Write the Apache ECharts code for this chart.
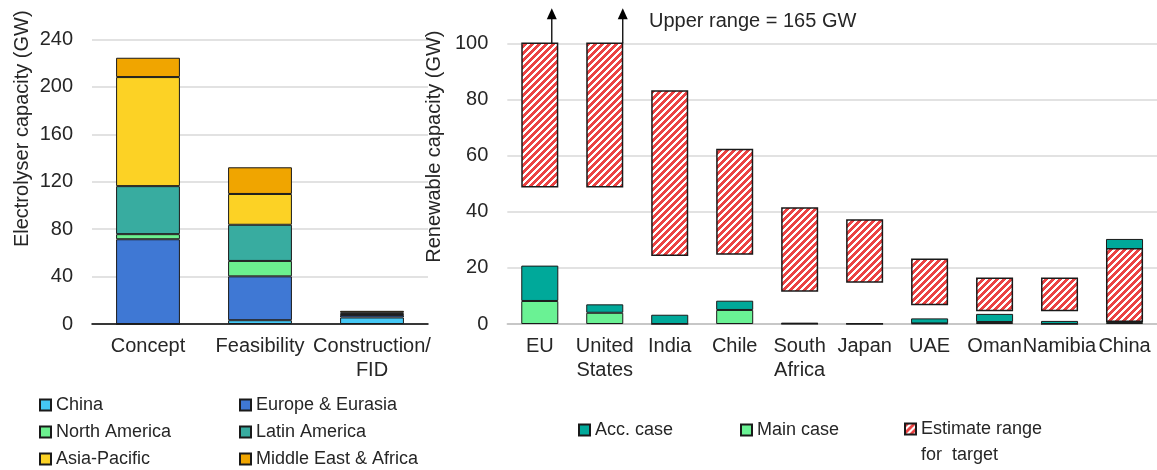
<!DOCTYPE html>
<html>
<head>
<meta charset="utf-8" />
<title>Electrolyser and renewable capacity</title>
<style>
  html, body { margin: 0; width: 100%; height: 100%; background: #fff; }
  #main { width: 1157px; height: 470px; }
</style>
</head>
<body>
<div id="main"></div>
<script src="https://cdn.jsdelivr.net/npm/echarts@6/dist/echarts.min.js"></script>
<script>
// left panel: electrolyser projects by stage (GW)
var stages = ["Concept", "Feasibility", "Construction/\nFID"];
var china = [0, 3.2, 5.5];
var europe = [71.5, 37, 2];
var northAmerica = [4.3, 13, 0.5];
var latinAmerica = [40.5, 30.5, 0.8];
var asiaPacific = [92, 26, 0.8];
var middleEast = [16.3, 22.5, 1.5];

// right panel: renewable capacity (GW)
var countries = ["EU", "United\nStates", "India", "Chile", "South\nAfrica", "Japan", "UAE", "Oman", "Namibia", "China"];
var mainCase = [8.2, 4.0, 0, 5.0, 0.1, 0.05, 0.2, 0.7, 0, 0.7];
var accCase = [20.8, 7.0, 3.3, 8.3, 0.4, 0.2, 2.0, 3.6, 1.1, 30.3];
var targetLow = [48.6, 48.6, 24.2, 24.7, 11.5, 14.7, 6.7, 4.5, 4.5, 0.7];
var targetHigh = [165, 165, 83.3, 62.4, 41.6, 37.3, 23.3, 16.6, 16.6, 27.1];

var FONT = "Liberation Sans";
var TXT = "#262626";
var EDGE = "#1a1a1a";

// red/white diagonal hatch, drawn pixel by pixel like the original
function hatch() {
  var s = 7;
  var c = document.createElement("canvas");
  c.width = s; c.height = s;
  var g = c.getContext("2d");
  g.fillStyle = "#fff";
  g.fillRect(0, 0, s, s);
  g.fillStyle = "#eb4343";
  for (var x = 0; x < s; x++) {
    for (var y = 0; y < s; y++) {
      if ((x + y) % s < 4) g.fillRect(x, y, 1, 1);
    }
  }
  return { image: c, repeat: "repeat" };
}

function region(name, data, color) {
  return {
    name: name, type: "bar", stack: "stage", xAxisIndex: 0, yAxisIndex: 0,
    barWidth: "57%", data: data,
    itemStyle: { color: color, borderColor: EDGE, borderWidth: 1 }
  };
}

var accStep = accCase.map(function (v, i) { return +(v - mainCase[i]).toFixed(2); });
var rangeSpan = targetHigh.map(function (v, i) { return +(v - targetLow[i]).toFixed(2); });

var axisLabel = { fontFamily: FONT, fontSize: 20, color: TXT };
var legendText = { fontFamily: FONT, fontSize: 18, color: TXT, lineHeight: 20 };

function legend(names, left, top, extra) {
  return Object.assign({
    data: names, orient: "vertical", left: left, top: top, padding: 0, itemGap: 7,
    itemWidth: 11, itemHeight: 11, icon: "rect", textStyle: legendText, selectedMode: false
  }, extra || {});
}

var chart = echarts.init(document.getElementById("main"));
var option = {
  animation: false,
  title: {
    text: "Upper range = " + Math.max.apply(null, targetHigh) + " GW",
    left: 649, top: 11, padding: 0,
    textStyle: { fontFamily: FONT, fontSize: 20, fontWeight: "normal", color: TXT }
  },
  grid: [
    { left: 92, top: 39.5, width: 336, height: 284.5 },
    { left: 507.3, top: 43.3, width: 653, height: 280.7 }
  ],
  xAxis: [
    {
      type: "category", gridIndex: 0, data: stages,
      axisLine: { lineStyle: { color: "#000", width: 1.5 } },
      axisTick: { lineStyle: { color: "#000", width: 1.5 }, length: 6 },
      axisLabel: Object.assign({ margin: 10, lineHeight: 24, interval: 0 }, axisLabel)
    },
    {
      type: "category", gridIndex: 1, data: countries,
      axisLine: { lineStyle: { color: "#bfbfbf", width: 1.5 } },
      axisTick: { lineStyle: { color: "#bfbfbf", width: 1.5 }, length: 6 },
      axisLabel: Object.assign({ margin: 10, lineHeight: 24, interval: 0 }, axisLabel)
    }
  ],
  yAxis: [
    {
      type: "value", gridIndex: 0, min: 0, max: 240, interval: 40,
      name: "Electrolyser capacity (GW)", nameLocation: "middle", nameGap: 60,
      nameTextStyle: { fontFamily: FONT, fontSize: 20, color: TXT, padding: [0, 0, 0, 106] },
      axisLabel: Object.assign({ margin: 19 }, axisLabel),
      splitLine: { lineStyle: { color: "#d9d9d9", width: 1.5 } }
    },
    {
      type: "value", gridIndex: 1, min: 0, max: 100, interval: 20,
      name: "Renewable capacity (GW)", nameLocation: "middle", nameGap: 54,
      nameTextStyle: { fontFamily: FONT, fontSize: 20, color: TXT, padding: [0, 0, 0, 74] },
      axisLabel: Object.assign({ margin: 19 }, axisLabel),
      splitLine: { lineStyle: { color: "#d9d9d9", width: 1.5 } }
    }
  ],
  legend: [
    legend(["China", "North America", "Asia-Pacific"], 39, 395),
    legend(["Europe & Eurasia", "Latin America", "Middle East & Africa"], 239, 395),
    legend(["Acc. case"], 578, 420),
    legend(["Main case"], 740, 420),
    legend(["Estimate range"], 904, 390, {
      formatter: "\nEstimate range\nfor  target",
      textStyle: { fontFamily: FONT, fontSize: 18, color: TXT, lineHeight: 26 }
    })
  ],
  series: [
    region("China", china, "#45c8f5"),
    region("Europe & Eurasia", europe, "#3f78d4"),
    region("North America", northAmerica, "#6cf08f"),
    region("Latin America", latinAmerica, "#38aca0"),
    region("Asia-Pacific", asiaPacific, "#fcd225"),
    region("Middle East & Africa", middleEast, "#f0a500"),
    {
      name: "Main case", type: "bar", stack: "case", xAxisIndex: 1, yAxisIndex: 1,
      barWidth: "57%", barGap: "-100%", data: mainCase,
      itemStyle: { color: "#6af294", borderColor: EDGE, borderWidth: 1 }
    },
    {
      name: "Acc. case", type: "bar", stack: "case", xAxisIndex: 1, yAxisIndex: 1,
      barWidth: "57%", barGap: "-100%", data: accStep,
      itemStyle: { color: "#00a99a", borderColor: EDGE, borderWidth: 1 }
    },
    {
      name: "base", type: "bar", stack: "target", xAxisIndex: 1, yAxisIndex: 1,
      barWidth: "57%", barGap: "-100%", data: targetLow, silent: true,
      itemStyle: { color: "rgba(0,0,0,0)", borderWidth: 0 }
    },
    {
      name: "Estimate range", type: "bar", stack: "target", xAxisIndex: 1, yAxisIndex: 1,
      barWidth: "57%", barGap: "-100%", data: rangeSpan,
      itemStyle: { color: hatch(), borderColor: EDGE, borderWidth: 1.5 }
    }
  ]
};
chart.setOption(option);

// arrows above the target ranges that run past the axis
var yMax = option.yAxis[1].max;
var arrows = [];
targetHigh.forEach(function (v, i) {
  if (v <= yMax) return;
  var p = chart.convertToPixel({ xAxisIndex: 1, yAxisIndex: 1 }, [i, yMax]);
  var x = p[0] + (i === 0 ? 12 : 18);
  var y = p[1];
  arrows.push({ type: "line", shape: { x1: x, y1: y, x2: x, y2: y - 26 },
    style: { stroke: "#000", lineWidth: 1.3 } });
  arrows.push({ type: "polygon", shape: { points: [[x, y - 35], [x - 5, y - 24], [x + 5, y - 24]] },
    style: { fill: "#000" } });
});
chart.setOption({ graphic: arrows });
</script>
</body>
</html>
